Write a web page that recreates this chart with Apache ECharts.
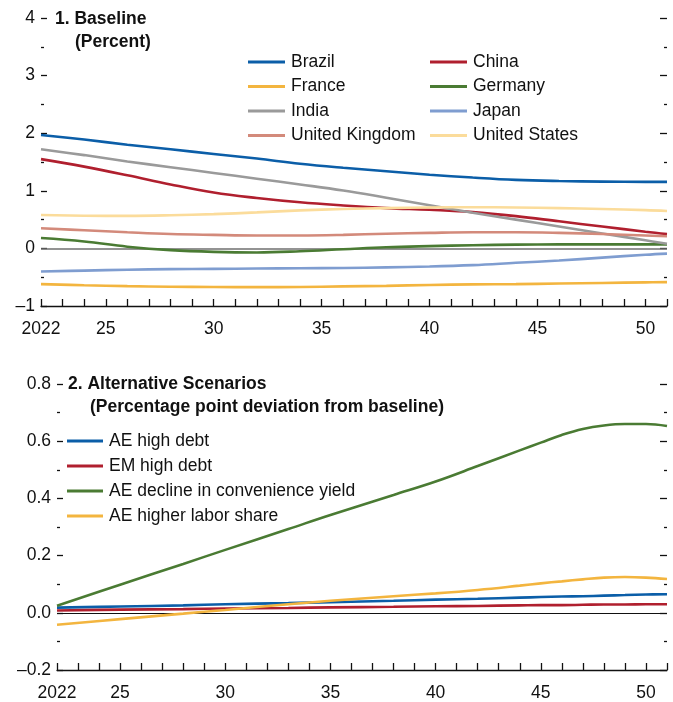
<!DOCTYPE html>
<html><head><meta charset="utf-8">
<script src="https://cdn.jsdelivr.net/npm/echarts@6/dist/echarts.min.js"></script>
<style>html,body{margin:0;padding:0;background:#fff}#c{width:673px;height:702px}</style>
</head><body><div id="c"></div>
<script>
// ---- Panel 1: Baseline (Percent)
const years1 = [2022, 2024, 2026, 2028, 2030, 2032, 2034, 2036, 2038, 2040, 2042, 2044, 2046, 2048, 2050, 2051];
const brazil  = [1.97, 1.89, 1.80, 1.72, 1.64, 1.56, 1.47, 1.40, 1.34, 1.28, 1.23, 1.19, 1.17, 1.16, 1.155, 1.155];
const china   = [1.55, 1.42, 1.27, 1.11, 0.97, 0.875, 0.80, 0.745, 0.70, 0.67, 0.63, 0.56, 0.47, 0.38, 0.29, 0.25];
const france  = [-0.62, -0.64, -0.655, -0.665, -0.67, -0.672, -0.67, -0.66, -0.65, -0.635, -0.625, -0.62, -0.61, -0.60, -0.59, -0.585];
const germany = [0.18, 0.12, 0.03, -0.03, -0.06, -0.07, -0.05, -0.015, 0.02, 0.04, 0.055, 0.065, 0.07, 0.07, 0.07, 0.07];
const india   = [1.72, 1.62, 1.51, 1.41, 1.31, 1.21, 1.11, 1.005, 0.88, 0.75, 0.62, 0.50, 0.38, 0.26, 0.14, 0.08];
const japan   = [-0.40, -0.385, -0.37, -0.36, -0.355, -0.35, -0.345, -0.34, -0.33, -0.315, -0.29, -0.25, -0.21, -0.16, -0.11, -0.09];
const uk      = [0.35, 0.315, 0.28, 0.25, 0.235, 0.225, 0.225, 0.235, 0.255, 0.27, 0.28, 0.28, 0.27, 0.25, 0.225, 0.21];
const us      = [0.58, 0.568, 0.565, 0.575, 0.595, 0.625, 0.66, 0.685, 0.70, 0.71, 0.715, 0.71, 0.70, 0.685, 0.665, 0.65];
const names1  = ['Brazil', 'China', 'France', 'Germany', 'India', 'Japan', 'United Kingdom', 'United States'];
const values1 = [brazil, china, france, germany, india, japan, uk, us];
const colors1 = ['#0b5ea8', '#b01f2e', '#f3b53f', '#4a7b33', '#9a9a9a', '#7f9dd0', '#d38a7b', '#fbdc9b'];

// ---- Panel 2: Alternative Scenarios (pp deviation from baseline)
const years2 = [2022, 2025, 2028, 2030, 2033, 2035, 2038, 2040, 2042, 2044, 2045, 2046, 2047, 2048, 2049, 2050, 2051];
const aeHighDebt = [0.018, 0.022, 0.026, 0.030, 0.034, 0.037, 0.042, 0.046, 0.049, 0.053, 0.055, 0.057, 0.058, 0.060, 0.062, 0.064, 0.065];
const emHighDebt = [0.008, 0.011, 0.013, 0.015, 0.017, 0.019, 0.021, 0.023, 0.024, 0.026, 0.027, 0.027, 0.028, 0.029, 0.029, 0.030, 0.030];
const aeConvYield = [0.025, 0.098, 0.171, 0.22, 0.293, 0.342, 0.412, 0.459, 0.513, 0.568, 0.595, 0.622, 0.643, 0.655, 0.66, 0.66, 0.653];
const aeLabor = [-0.042, -0.022, -0.003, 0.010, 0.030, 0.042, 0.058, 0.068, 0.080, 0.095, 0.103, 0.110, 0.117, 0.123, 0.125, 0.123, 0.118];
const names2 = ['AE high debt', 'EM high debt', 'AE decline in convenience yield', 'AE higher labor share'];
const values2 = [aeHighDebt, emHighDebt, aeConvYield, aeLabor];
const colors2 = ['#0b5ea8', '#b01f2e', '#4a7b33', '#f3b53f'];

const FONT = 'Liberation Sans, Arial, sans-serif';
const FS = 17.5;
const txt = {fontFamily: FONT, fontSize: FS, color: '#111'};

function dash(v, d) { const s = Math.abs(v).toFixed(d); return v < 0 ? '\u2013' + s : s; }

function xAxisFor(gi) {
  return {
    type: 'value', gridIndex: gi, min: 2022, max: 2051, interval: 1,
    axisLine: {show: true, onZero: false, lineStyle: {color: '#111', width: 1.3}},
    axisTick: {show: true, inside: true, length: 7, lineStyle: {color: '#111', width: 1.3}},
    axisLabel: Object.assign({margin: 14, formatter: v => v === 2022 ? '2022' : (v % 5 === 0 ? String(v % 100) : ''), showMaxLabel: true, showMinLabel: true}, txt),
    splitLine: {show: false}
  };
}
function yAxisFor(gi, min, max, step, dec, right) {
  return {
    type: 'value', gridIndex: gi, min: min, max: max, interval: step, position: right ? 'right' : 'left',
    axisLine: {show: false},
    axisTick: {show: true, inside: true, length: right ? 7 : 6, lineStyle: {color: '#111', width: 1.3}},
    minorTick: {show: true, splitNumber: 2, length: 3, lineStyle: {color: '#111', width: 1.3}},
    axisLabel: Object.assign({show: !right, margin: 6, formatter: v => dash(v, dec)}, txt),
    splitLine: {show: false}
  };
}

const series = [];
names1.forEach((n, i) => series.push({
  name: n, type: 'line', xAxisIndex: 0, yAxisIndex: 0, smooth: 0.4, symbol: 'none',
  lineStyle: {width: 2.6, color: colors1[i]}, itemStyle: {color: colors1[i]},
  data: years1.map((y, k) => [y, values1[i][k]]), z: 3
}));
series[0].markLine = {silent: true, symbol: 'none', label: {show: false}, z: 2,
  lineStyle: {color: '#6f6f6f', width: 1.5, type: 'solid'}, data: [{yAxis: 0}]};
names2.forEach((n, i) => series.push({
  name: n, type: 'line', xAxisIndex: 1, yAxisIndex: 2, smooth: 0.4, symbol: 'none',
  lineStyle: {width: 2.6, color: colors2[i]}, itemStyle: {color: colors2[i]},
  data: years2.map((y, k) => [y, values2[i][k]]), z: 3
}));
series[names1.length].markLine = {silent: true, symbol: 'none', label: {show: false}, z: 2,
  lineStyle: {color: '#111', width: 1, type: 'solid'}, data: [{yAxis: 0}]};

const legendBase = {orient: 'vertical', icon: 'rect', itemHeight: 3, itemGap: 6.5, padding: 0,
  textStyle: Object.assign({lineHeight: 18, padding: [0, 0, 0, 1]}, txt), selectedMode: false};

const option = {
  animation: false,
  backgroundColor: '#fff',
  grid: [
    {left: 41, right: 6, top: 18, height: 288},
    {left: 57, right: 6, top: 384, height: 286}
  ],
  xAxis: [xAxisFor(0), xAxisFor(1)],
  yAxis: [
    yAxisFor(0, -1, 4, 1, 0, false), yAxisFor(0, -1, 4, 1, 0, true),
    yAxisFor(1, -0.2, 0.8, 0.2, 1, false), yAxisFor(1, -0.2, 0.8, 0.2, 1, true)
  ],
  legend: [
    Object.assign({left: 248, top: 53, itemWidth: 37, data: ['Brazil', 'France', 'India', 'United Kingdom']}, legendBase),
    Object.assign({left: 430, top: 53, itemWidth: 37, data: ['China', 'Germany', 'Japan', 'United States']}, legendBase),
    Object.assign({}, legendBase, {left: 67, top: 432, itemWidth: 36, itemGap: 7, data: names2})
  ],
  graphic: [
    {type: 'text', x: 55, y: 19, style: {text: '1. Baseline', font: 'bold ' + FS + 'px ' + FONT, fill: '#111', verticalAlign: 'middle'}},
    {type: 'text', x: 75, y: 42, style: {text: '(Percent)', font: 'bold ' + FS + 'px ' + FONT, fill: '#111', verticalAlign: 'middle'}},
    {type: 'text', x: 68, y: 384, style: {text: '2. Alternative Scenarios', font: 'bold ' + FS + 'px ' + FONT, fill: '#111', verticalAlign: 'middle'}},
    {type: 'text', x: 90, y: 407, style: {text: '(Percentage point deviation from baseline)', font: 'bold ' + FS + 'px ' + FONT, fill: '#111', verticalAlign: 'middle'}}
  ],
  series: series
};
const chart = echarts.init(document.getElementById('c'), null, {renderer: 'canvas'});
chart.setOption(option);
</script></body></html>
